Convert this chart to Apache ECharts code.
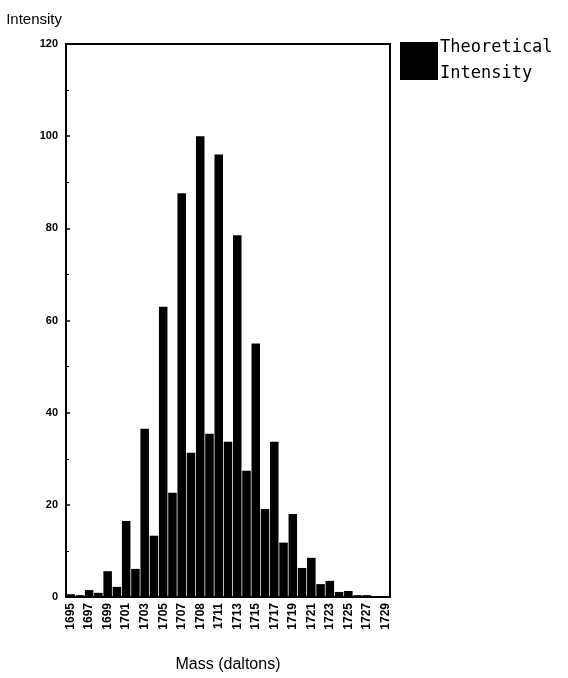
<!DOCTYPE html>
<html>
<head>
<meta charset="utf-8">
<script src="https://cdn.jsdelivr.net/npm/echarts@6/dist/echarts.min.js"></script>
<style>html,body{margin:0;padding:0;background:#fff}#c{width:568px;height:678px}</style>
</head>
<body>
<div id="c"></div>
<script>
const masses = [1695,1696,1697,1698,1699,1700,1701,1702,1703,1704,1705,1706,1707,1708,1709,1710,1711,1712,1713,1714,1715,1716,1717,1718,1719,1720,1721,1722,1723,1724,1725,1726,1727,1728,1729];
const intensity = [0.6,0.4,1.5,0.9,5.6,2.2,16.5,6.1,36.5,13.3,63,22.6,87.6,31.3,100,35.4,96,33.7,78.5,27.4,55,19.1,33.7,11.8,18.0,6.3,8.5,2.8,3.5,1.1,1.3,0.4,0.4,0.2,0.2];
const tickLabels = ['1695','1697','1699','1701','1703','1705','1707','1708','1711','1713','1715','1717','1719','1721','1723','1725','1727','1729'];
const yTicks = [0,20,40,60,80,100,120];

const chart = echarts.init(document.getElementById('c'));
chart.setOption({
  animation: false,
  backgroundColor: '#fff',
  grid: {left: 66, right: 178, top: 44, bottom: 81, show: true, borderColor: '#000', borderWidth: 2, backgroundColor: 'transparent'},
  legend: {
    left: 395, top: 30, orient: 'vertical', icon: 'rect', itemWidth: 38, itemHeight: 38, itemGap: 0,
    textStyle: {fontFamily: 'DejaVu Sans Mono', fontSize: 17, color: '#000', lineHeight: 26, padding: [0, 0, 0, -3]},
    formatter: function(n){ return n.replace(' ', '\n'); },
    data: ['Theoretical Intensity']
  },
  xAxis: {
    type: 'category', data: masses.map(String),
    name: 'Mass (daltons)', nameLocation: 'middle', nameGap: 60,
    nameTextStyle: {fontFamily: 'Liberation Sans', fontSize: 16, color: '#000'},
    axisLine: {show: true, lineStyle: {color: '#000', width: 2}},
    axisTick: {show: false},
    axisLabel: {
      interval: 1, rotate: 90, margin: 6,
      fontFamily: 'Liberation Sans', fontSize: 12, fontWeight: 'bold', color: '#000',
      formatter: function(v, i){ return tickLabels[Math.round(i/2)] || v; }
    }
  },
  yAxis: {
    type: 'value', min: yTicks[0], max: yTicks[yTicks.length-1], interval: 20,
    name: 'Intensity', nameLocation: 'end', nameGap: 17,
    nameTextStyle: {fontFamily: 'Liberation Sans', fontSize: 15, color: '#000', align: 'right', padding: [0, 4, 0, 0]},
    axisLine: {show: true, lineStyle: {color: '#000', width: 2}},
    axisTick: {show: true, inside: true, length: 4, lineStyle: {color: '#000', width: 1.5}},
    minorTick: {show: true, splitNumber: 2, length: 3, lineStyle: {color: '#000'}},
    splitLine: {show: false},
    axisLabel: {fontFamily: 'Liberation Sans', fontSize: 11, fontWeight: 'bold', color: '#000', margin: 8}
  },
  series: [{
    name: 'Theoretical Intensity', type: 'bar', data: intensity,
    barCategoryGap: '8%', itemStyle: {color: '#000'}
  }]
});
</script>
</body>
</html>
